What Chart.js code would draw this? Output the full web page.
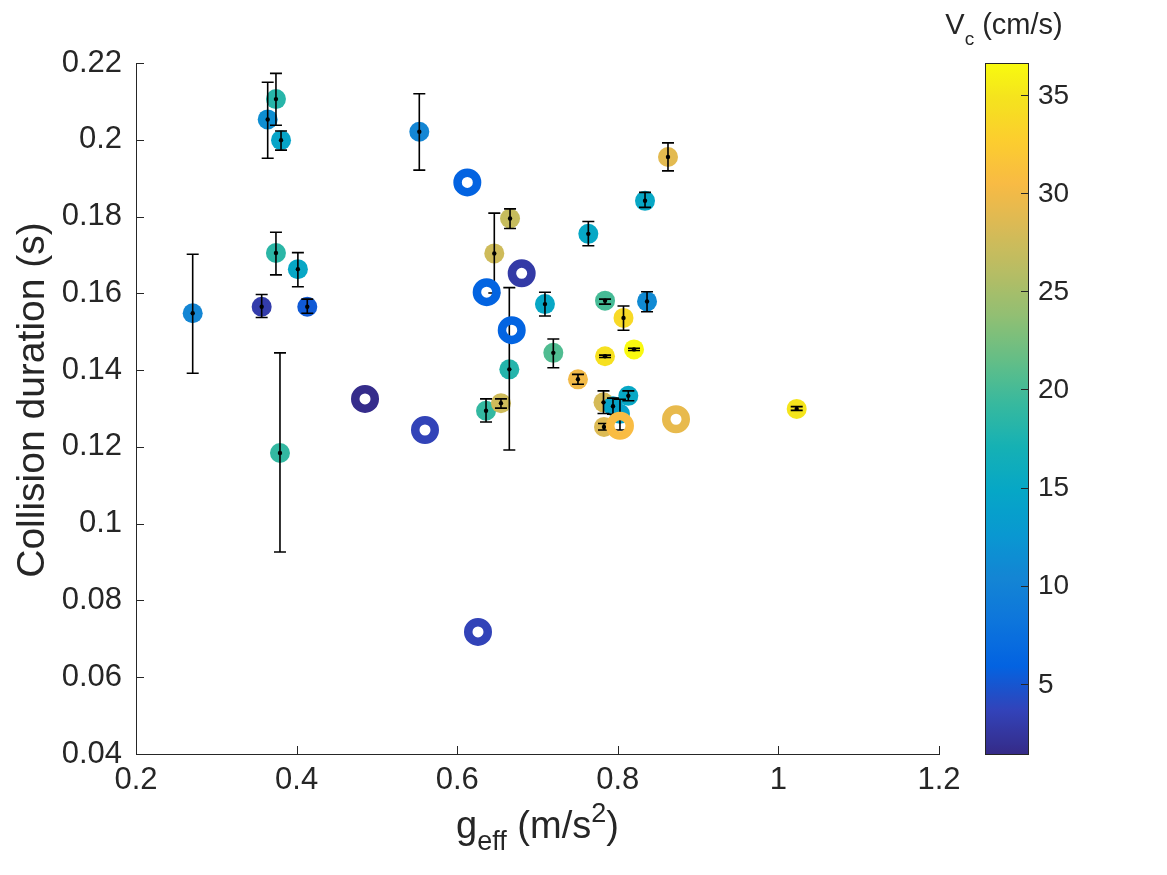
<!DOCTYPE html>
<html>
<head>
<meta charset="utf-8">
<script src="https://cdn.jsdelivr.net/npm/chart.js@4.4.0/dist/chart.umd.min.js"></script>
<style>
    html, body { margin: 0; padding: 0; background: #fff; }
    canvas { display: block; }
</style>
</head>
<body>
<canvas id="collisionChart" width="1167" height="875"></canvas>
<script>
// filled markers, each with a vertical error bar
const gEff     = [0.2706, 0.3640, 0.3743, 0.3806, 0.3743, 0.4016, 0.3565, 0.4133, 0.3793, 0.5528,
                  0.8625, 0.8339, 0.6658, 0.6462, 0.7633, 0.7093, 0.7841, 0.8364, 0.8071, 0.7841,
                  0.8202, 0.7197, 0.6649, 0.7504, 0.6359, 0.6545, 0.7822, 0.8131, 0.7940, 0.8027,
                  0.7828, 1.0228];
const duration = [0.1548, 0.2053, 0.2106, 0.1999, 0.1705, 0.1663, 0.1565, 0.1565, 0.1184, 0.2021,
                  0.1955, 0.1841, 0.1795, 0.1704, 0.1755, 0.1572, 0.1581, 0.1579, 0.1536, 0.1436,
                  0.1454, 0.1445, 0.1402, 0.1376, 0.1294, 0.1314, 0.1316, 0.1333, 0.1306, 0.1286,
                  0.1252, 0.1299];
const durHigh  = [0.1702, 0.2150, 0.2173, 0.2023, 0.1759, 0.1706, 0.1597, 0.1585, 0.1445, 0.2120,
                  0.1992, 0.1863, 0.1820, 0.1809, 0.1787, 0.1603, 0.1585, 0.1604, 0.1567, 0.1439,
                  0.1457, 0.1481, 0.1615, 0.1389, 0.1325, 0.1325, 0.1346, 0.1346, 0.1327, 0.1324,
                  0.1261, 0.1305];
const durLow   = [0.1392, 0.1952, 0.2038, 0.1973, 0.1648, 0.1617, 0.1537, 0.1548, 0.0926, 0.1921,
                  0.1919, 0.1824, 0.1769, 0.1601, 0.1724, 0.1541, 0.1572, 0.1552, 0.1504, 0.1433,
                  0.1451, 0.1406, 0.1192, 0.1363, 0.1265, 0.1301, 0.1287, 0.1320, 0.1285, 0.1244,
                  0.1244, 0.1295];
const vc       = [10.5, 11.5, 18.2, 14.5, 18.5, 15, 3, 5.3, 19, 10.5,
                  29, 15, 27, 27.5, 15, 15, 20, 11, 33.8, 34.5,
                  36.5, 20.5, 18, 30, 19, 27.5, 28, 15, 14.5, 14,
                  28.5, 35];

// open ring markers (no error bars)
const ringGEff     = [0.6126, 0.6367, 0.6803, 0.6679, 0.4852, 0.5599, 0.6259, 0.8027, 0.8725];
const ringDuration = [0.1889, 0.1603, 0.1652, 0.1504, 0.1325, 0.1244, 0.0718, 0.1255, 0.1272];
const ringVc       = [5.9, 6, 2.8, 6, 1.6, 3.6, 3.6, 30.6, 29.3];

// axes
const xTicks  = [0.2, 0.4, 0.6, 0.8, 1, 1.2];
const yTicks  = [0.04, 0.06, 0.08, 0.1, 0.12, 0.14, 0.16, 0.18, 0.2, 0.22];
const cbTicks = [5, 10, 15, 20, 25, 30, 35];
const cbMin = 1.43, cbMax = 36.63;

// parula colormap anchors (every 4th entry of the 64 table)
const parula = [
    [0.2081, 0.1663, 0.5292], [0.1959, 0.2645, 0.7279], [0.0117, 0.3875, 0.8820],
    [0.0498, 0.4586, 0.8641], [0.0793, 0.5200, 0.8312], [0.0343, 0.5966, 0.8199],
    [0.0228, 0.6535, 0.7768], [0.0843, 0.6928, 0.7062], [0.2178, 0.7250, 0.6193],
    [0.3953, 0.7459, 0.5244], [0.5709, 0.7485, 0.4494], [0.7184, 0.7411, 0.3905],
    [0.8507, 0.7299, 0.3360], [0.9739, 0.7314, 0.2666], [0.9880, 0.8066, 0.1794],
    [0.9589, 0.8949, 0.1132], [0.9763, 0.9831, 0.0538]
];
const parulaPos = [0, 4, 8, 12, 16, 20, 24, 28, 32, 36, 40, 44, 48, 52, 56, 60, 63].map(i => i / 63);

function parulaAt(t) {
    t = Math.max(0, Math.min(1, t));
    let k = 0;
    while (k < parulaPos.length - 2 && t > parulaPos[k + 1]) k++;
    const f = (t - parulaPos[k]) / (parulaPos[k + 1] - parulaPos[k]);
    const c = parula[k].map((v, j) => Math.round(255 * (v + (parula[k + 1][j] - v) * f)));
    return 'rgb(' + c.join(',') + ')';
}
const colorFor = v => parulaAt((v - cbMin) / (cbMax - cbMin));

const FONT = "'Liberation Sans', Arial, Helvetica, sans-serif";
const INK = '#262626';

// draws a run of text pieces (normal / sub / super) starting at x
function drawRich(ctx, parts, x, y) {
    parts.forEach(p => {
        ctx.font = p.size + 'px ' + FONT;
        ctx.fillText(p.text, x, y + (p.dy || 0));
        x += ctx.measureText(p.text).width;
    });
}
function richWidth(ctx, parts) {
    let w = 0;
    parts.forEach(p => { ctx.font = p.size + 'px ' + FONT; w += ctx.measureText(p.text).width; });
    return w;
}

const decorations = {
    id: 'decorations',
    afterDatasetDraw(chart, args) {
        // error bars sit above the filled markers, under the rings
        if (args.index !== 1) return;
        const ctx = chart.ctx, xs = chart.scales.x, ys = chart.scales.y;
        ctx.save();
        ctx.strokeStyle = '#000';
        ctx.fillStyle = '#000';
        ctx.lineWidth = 1.6;
        gEff.forEach((g, i) => {
            const px = xs.getPixelForValue(g);
            const top = ys.getPixelForValue(durHigh[i]);
            const bot = ys.getPixelForValue(durLow[i]);
            const mid = ys.getPixelForValue(duration[i]);
            ctx.beginPath();
            ctx.moveTo(px, top); ctx.lineTo(px, bot);
            ctx.moveTo(px - 6, top); ctx.lineTo(px + 6, top);
            ctx.moveTo(px - 6, bot); ctx.lineTo(px + 6, bot);
            ctx.stroke();
            ctx.beginPath();
            ctx.arc(px, mid, 2.2, 0, Math.PI * 2);
            ctx.fill();
        });
        ctx.restore();
    },
    afterDraw(chart) {
        const ctx = chart.ctx, xs = chart.scales.x, ys = chart.scales.y, cb = chart.scales.cb;
        const area = chart.chartArea;
        ctx.save();

        // inward tick marks
        ctx.strokeStyle = INK;
        ctx.lineWidth = 1;
        ctx.beginPath();
        xTicks.forEach(v => {
            const px = Math.round(xs.getPixelForValue(v)) + 0.5;
            ctx.moveTo(px, area.bottom); ctx.lineTo(px, area.bottom - 8);
        });
        yTicks.forEach(v => {
            const py = Math.round(ys.getPixelForValue(v)) + 0.5;
            ctx.moveTo(area.left, py); ctx.lineTo(area.left + 8, py);
        });
        ctx.stroke();

        // 2. colorbar
        const cbLeft = 985, cbRight = 1028;
        const cbTop = cb.getPixelForValue(cbMax), cbBot = cb.getPixelForValue(cbMin);
        const grad = ctx.createLinearGradient(0, cbBot, 0, cbTop);
        for (let i = 0; i <= 63; i++) grad.addColorStop(i / 63, parulaAt(i / 63));
        ctx.fillStyle = grad;
        ctx.fillRect(cbLeft, cbTop, cbRight - cbLeft, cbBot - cbTop);
        ctx.strokeStyle = INK;
        ctx.strokeRect(cbLeft + 0.5, Math.round(cbTop) + 0.5, cbRight - cbLeft, Math.round(cbBot - cbTop));
        ctx.beginPath();
        cbTicks.forEach(v => {
            const py = Math.round(cb.getPixelForValue(v)) + 0.5;
            ctx.moveTo(cbRight, py); ctx.lineTo(cbRight - 7, py);
        });
        ctx.stroke();

        ctx.fillStyle = INK;
        ctx.font = '28px ' + FONT;
        ctx.textAlign = 'left';
        ctx.textBaseline = 'middle';
        cbTicks.forEach(v => ctx.fillText(String(v), 1038, cb.getPixelForValue(v) + 1));

        // 3. titles
        ctx.textBaseline = 'alphabetic';

        const cbTitle = [
            { text: 'V', size: 29 },
            { text: 'c', size: 19, dy: 11 },
            { text: ' (cm/s)', size: 29 }
        ];
        drawRich(ctx, cbTitle, 1004 - richWidth(ctx, cbTitle) / 2, 34);

        const xTitle = [
            { text: 'g', size: 38 },
            { text: 'eff', size: 27, dy: 12 },
            { text: ' (m/s', size: 38 },
            { text: '2', size: 27, dy: -16 },
            { text: ')', size: 38 }
        ];
        drawRich(ctx, xTitle, (area.left + area.right) / 2 - richWidth(ctx, xTitle) / 2, 838);

        ctx.translate(44, 400);
        ctx.rotate(-Math.PI / 2);
        ctx.textAlign = 'center';
        ctx.font = '39px ' + FONT;
        ctx.fillText('Collision duration (s)', 0, 0);

        ctx.restore();
    }
};

// 1. Scatter of collision duration vs effective gravity
const chartCtx = document.getElementById('collisionChart');
new Chart(chartCtx, {
    type: 'scatter',
    data: {
        datasets: [
            {
                label: 'rings',
                data: ringGEff.map((g, i) => ({ x: g, y: ringDuration[i] })),
                backgroundColor: 'rgba(0,0,0,0)',
                borderColor: ringVc.map(colorFor),
                borderWidth: 8.5,
                pointRadius: 9.75,
                pointHoverRadius: 9.75
            },
            {
                label: 'measured',
                data: gEff.map((g, i) => ({ x: g, y: duration[i] })),
                backgroundColor: vc.map(colorFor),
                borderWidth: 0,
                pointRadius: 10,
                pointHoverRadius: 10
            }
        ]
    },
    options: {
        responsive: false,
        animation: false,
        events: [],
        layout: { padding: { left: 0, top: 63, right: 0, bottom: 0 } },
        plugins: {
            legend: { display: false },
            tooltip: { enabled: false }
        },
        scales: {
            x: {
                type: 'linear',
                min: 0.2, max: 1.2,
                afterBuildTicks: s => { s.ticks = xTicks.map(v => ({ value: v })); },
                afterFit: s => { s.height = 121; },
                grid: { display: false, drawTicks: false },
                border: { display: true, color: INK, width: 1 },
                ticks: {
                    font: { family: FONT, size: 31 },
                    color: INK,
                    padding: 8,
                    maxRotation: 0,
                    callback: v => String(+v.toFixed(2))
                }
            },
            y: {
                type: 'linear',
                min: 0.04, max: 0.22,
                afterBuildTicks: s => { s.ticks = yTicks.map(v => ({ value: v })); },
                afterFit: s => { s.width = 136; },
                grid: { display: false, drawTicks: false },
                border: { display: true, color: INK, width: 1 },
                ticks: {
                    font: { family: FONT, size: 31 },
                    color: INK,
                    padding: 14,
                    callback: v => String(+v.toFixed(2))
                }
            },
            cb: {
                type: 'linear',
                position: 'right',
                min: cbMin, max: cbMax,
                afterBuildTicks: s => { s.ticks = cbTicks.map(v => ({ value: v })); },
                afterFit: s => { s.width = 228; },
                grid: { display: false, drawTicks: false },
                border: { display: false },
                ticks: { display: false }
            }
        }
    },
    plugins: [decorations]
});
</script>
</body>
</html>
